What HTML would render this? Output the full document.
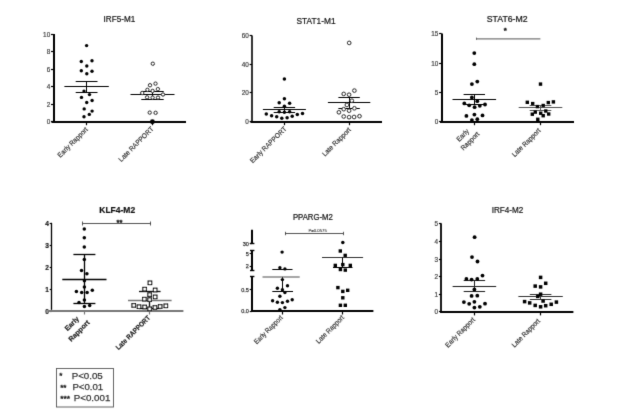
<!DOCTYPE html><html><head><meta charset="utf-8"><style>html,body{margin:0;padding:0;background:#fff;width:624px;height:413px;overflow:hidden}svg{display:block;font-family:"Liberation Sans",sans-serif;}#w{width:624px;height:413px}</style></head><body>
<div id="w">
<svg width="624" height="413" viewBox="0 0 624 413">
<defs><filter id="bl" x="-5%" y="-5%" width="110%" height="110%"><feConvolveMatrix order="3" kernelMatrix="0.01000 0.08000 0.01000 0.08000 0.64000 0.08000 0.01000 0.08000 0.01000" preserveAlpha="false"/></filter></defs>
<rect width="624" height="413" fill="#fff"/>
<g filter="url(#bl)">
<text x="119.4" y="22.0" font-size="9" text-anchor="middle" font-weight="normal" fill="#111" stroke="#111" stroke-width="0.2" textLength="31.6" lengthAdjust="spacingAndGlyphs">IRF5-M1</text>
<line x1="54" y1="33.9" x2="54" y2="122.7" stroke="#000" stroke-width="2"/>
<line x1="51.0" y1="121.5" x2="53.5" y2="121.5" stroke="#000" stroke-width="1.2"/>
<text x="50.2" y="124.26" font-size="6.4" text-anchor="end" font-weight="normal" fill="#444" stroke="#444" stroke-width="0.2">0</text>
<line x1="51.0" y1="104.5" x2="53.5" y2="104.5" stroke="#000" stroke-width="1.2"/>
<text x="50.2" y="106.78" font-size="6.4" text-anchor="end" font-weight="normal" fill="#444" stroke="#444" stroke-width="0.2">2</text>
<line x1="51.0" y1="86.5" x2="53.5" y2="86.5" stroke="#000" stroke-width="1.2"/>
<text x="50.2" y="89.30000000000001" font-size="6.4" text-anchor="end" font-weight="normal" fill="#444" stroke="#444" stroke-width="0.2">4</text>
<line x1="51.0" y1="69.5" x2="53.5" y2="69.5" stroke="#000" stroke-width="1.2"/>
<text x="50.2" y="71.82000000000001" font-size="6.4" text-anchor="end" font-weight="normal" fill="#444" stroke="#444" stroke-width="0.2">6</text>
<line x1="51.0" y1="51.5" x2="53.5" y2="51.5" stroke="#000" stroke-width="1.2"/>
<text x="50.2" y="54.34" font-size="6.4" text-anchor="end" font-weight="normal" fill="#444" stroke="#444" stroke-width="0.2">8</text>
<line x1="51.0" y1="34.5" x2="53.5" y2="34.5" stroke="#000" stroke-width="1.2"/>
<text x="50.2" y="36.86" font-size="6.4" text-anchor="end" font-weight="normal" fill="#444" stroke="#444" stroke-width="0.2">10</text>
<line x1="51.5" y1="122" x2="186" y2="122" stroke="#000" stroke-width="2"/>
<line x1="86.5" y1="121.7" x2="86.5" y2="125.2" stroke="#000" stroke-width="1.2"/>
<line x1="152.5" y1="121.7" x2="152.5" y2="125.2" stroke="#000" stroke-width="1.2"/>
<line x1="64.39999999999999" y1="86.5" x2="108.8" y2="86.5" stroke="#000" stroke-width="1"/>
<line x1="75.69999999999999" y1="81.5" x2="97.5" y2="81.5" stroke="#000" stroke-width="1"/>
<line x1="75.69999999999999" y1="92.5" x2="97.5" y2="92.5" stroke="#000" stroke-width="1"/>
<line x1="86.5" y1="81.1" x2="86.5" y2="92.6" stroke="#000" stroke-width="1"/>
<circle cx="86.6" cy="45.6" r="1.7" fill="#000"/>
<circle cx="81.3" cy="61.5" r="1.7" fill="#000"/>
<circle cx="92.0" cy="60.8" r="1.7" fill="#000"/>
<circle cx="86.8" cy="66.0" r="1.7" fill="#000"/>
<circle cx="81.3" cy="70.7" r="1.7" fill="#000"/>
<circle cx="92.0" cy="71.2" r="1.7" fill="#000"/>
<circle cx="86.8" cy="73.7" r="1.7" fill="#000"/>
<circle cx="84.0" cy="91.1" r="1.7" fill="#000"/>
<circle cx="89.5" cy="94.6" r="1.7" fill="#000"/>
<circle cx="81.5" cy="97.4" r="1.7" fill="#000"/>
<circle cx="92.1" cy="100.5" r="1.7" fill="#000"/>
<circle cx="86.7" cy="102.5" r="1.7" fill="#000"/>
<circle cx="84.2" cy="108.9" r="1.7" fill="#000"/>
<circle cx="92.1" cy="111.1" r="1.7" fill="#000"/>
<circle cx="89.3" cy="114.4" r="1.7" fill="#000"/>
<circle cx="84.0" cy="116.8" r="1.7" fill="#000"/>
<line x1="130.5" y1="94.5" x2="174.5" y2="94.5" stroke="#000" stroke-width="1"/>
<line x1="141.3" y1="91.5" x2="163.7" y2="91.5" stroke="#000" stroke-width="1"/>
<line x1="141.3" y1="99.5" x2="163.7" y2="99.5" stroke="#000" stroke-width="1"/>
<line x1="152.5" y1="91.2" x2="152.5" y2="99.2" stroke="#000" stroke-width="1"/>
<circle cx="152.8" cy="63.7" r="1.6500000000000001" fill="#fff" stroke="#000" stroke-width="1.0"/>
<circle cx="150.0" cy="85.2" r="1.6500000000000001" fill="#fff" stroke="#000" stroke-width="1.0"/>
<circle cx="155.5" cy="83.6" r="1.6500000000000001" fill="#fff" stroke="#000" stroke-width="1.0"/>
<circle cx="147.4" cy="89.8" r="1.6500000000000001" fill="#fff" stroke="#000" stroke-width="1.0"/>
<circle cx="157.9" cy="89.1" r="1.6500000000000001" fill="#fff" stroke="#000" stroke-width="1.0"/>
<circle cx="142.2" cy="93.0" r="1.6500000000000001" fill="#fff" stroke="#000" stroke-width="1.0"/>
<circle cx="152.6" cy="90.9" r="1.6500000000000001" fill="#fff" stroke="#000" stroke-width="1.0"/>
<circle cx="163.0" cy="94.5" r="1.6500000000000001" fill="#fff" stroke="#000" stroke-width="1.0"/>
<circle cx="147.1" cy="97.3" r="1.6500000000000001" fill="#fff" stroke="#000" stroke-width="1.0"/>
<circle cx="152.6" cy="97.6" r="1.6500000000000001" fill="#fff" stroke="#000" stroke-width="1.0"/>
<circle cx="158.0" cy="97.6" r="1.6500000000000001" fill="#fff" stroke="#000" stroke-width="1.0"/>
<circle cx="149.7" cy="112.6" r="1.6500000000000001" fill="#fff" stroke="#000" stroke-width="1.0"/>
<circle cx="155.6" cy="112.8" r="1.6500000000000001" fill="#fff" stroke="#000" stroke-width="1.0"/>
<circle cx="152.4" cy="121.7" r="2.4499999999999997" fill="#000"/>
<text x="88.3" y="130.0" font-size="7" text-anchor="end" font-weight="normal" fill="#333" stroke="#333" stroke-width="0.18" transform="rotate(-45 88.3 130.0)" textLength="39.5" lengthAdjust="spacingAndGlyphs">Early Rapport</text>
<text x="154.10000000000002" y="129.4" font-size="7" text-anchor="end" font-weight="normal" fill="#333" stroke="#333" stroke-width="0.18" transform="rotate(-45 154.10000000000002 129.4)" textLength="46.3" lengthAdjust="spacingAndGlyphs">Late RAPPORT</text>
<text x="316.0" y="24.0" font-size="9" text-anchor="middle" font-weight="normal" fill="#111" stroke="#111" stroke-width="0.2" textLength="39.1" lengthAdjust="spacingAndGlyphs">STAT1-M1</text>
<line x1="252" y1="35.4" x2="252" y2="122.5" stroke="#000" stroke-width="1.6"/>
<line x1="249.6" y1="121.5" x2="252.1" y2="121.5" stroke="#000" stroke-width="1.2"/>
<text x="248.79999999999998" y="124.16" font-size="6.4" text-anchor="end" font-weight="normal" fill="#444" stroke="#444" stroke-width="0.2">0</text>
<line x1="249.6" y1="92.5" x2="252.1" y2="92.5" stroke="#000" stroke-width="1.2"/>
<text x="248.79999999999998" y="95.42666666666666" font-size="6.4" text-anchor="end" font-weight="normal" fill="#444" stroke="#444" stroke-width="0.2">20</text>
<line x1="249.6" y1="64.5" x2="252.1" y2="64.5" stroke="#000" stroke-width="1.2"/>
<text x="248.79999999999998" y="66.69333333333333" font-size="6.4" text-anchor="end" font-weight="normal" fill="#444" stroke="#444" stroke-width="0.2">40</text>
<line x1="249.6" y1="35.5" x2="252.1" y2="35.5" stroke="#000" stroke-width="1.2"/>
<text x="248.79999999999998" y="37.959999999999994" font-size="6.4" text-anchor="end" font-weight="normal" fill="#444" stroke="#444" stroke-width="0.2">60</text>
<line x1="250.5" y1="122" x2="382" y2="122" stroke="#000" stroke-width="2"/>
<line x1="284.5" y1="121.7" x2="284.5" y2="125.2" stroke="#000" stroke-width="1.2"/>
<line x1="349.5" y1="121.7" x2="349.5" y2="125.2" stroke="#000" stroke-width="1.2"/>
<line x1="262.9" y1="109.5" x2="305.9" y2="109.5" stroke="#000" stroke-width="1"/>
<line x1="273.7" y1="107.5" x2="295.09999999999997" y2="107.5" stroke="#000" stroke-width="1"/>
<line x1="273.7" y1="112.5" x2="295.09999999999997" y2="112.5" stroke="#000" stroke-width="1"/>
<line x1="284.5" y1="107.2" x2="284.5" y2="112.0" stroke="#000" stroke-width="1"/>
<circle cx="284.4" cy="79.1" r="1.75" fill="#000"/>
<circle cx="284.4" cy="98.8" r="1.75" fill="#000"/>
<circle cx="279.2" cy="102.8" r="1.75" fill="#000"/>
<circle cx="289.6" cy="103.2" r="1.75" fill="#000"/>
<circle cx="284.4" cy="106.2" r="1.75" fill="#000"/>
<circle cx="279.2" cy="111.7" r="1.75" fill="#000"/>
<circle cx="284.4" cy="112.2" r="1.75" fill="#000"/>
<circle cx="289.6" cy="111.7" r="1.75" fill="#000"/>
<circle cx="266.3" cy="114.0" r="1.75" fill="#000"/>
<circle cx="271.6" cy="115.7" r="1.75" fill="#000"/>
<circle cx="276.7" cy="116.8" r="1.75" fill="#000"/>
<circle cx="281.8" cy="118.2" r="1.75" fill="#000"/>
<circle cx="287.1" cy="117.7" r="1.75" fill="#000"/>
<circle cx="292.2" cy="116.2" r="1.75" fill="#000"/>
<circle cx="297.3" cy="114.4" r="1.75" fill="#000"/>
<circle cx="302.5" cy="113.4" r="1.75" fill="#000"/>
<line x1="327.90000000000003" y1="102.5" x2="370.3" y2="102.5" stroke="#000" stroke-width="1"/>
<line x1="338.40000000000003" y1="97.5" x2="359.8" y2="97.5" stroke="#000" stroke-width="1"/>
<line x1="338.40000000000003" y1="108.5" x2="359.8" y2="108.5" stroke="#000" stroke-width="1"/>
<line x1="349.5" y1="97.4" x2="349.5" y2="108.0" stroke="#000" stroke-width="1"/>
<circle cx="349.2" cy="42.9" r="1.8" fill="#fff" stroke="#000" stroke-width="1.0"/>
<circle cx="354.4" cy="90.6" r="1.8" fill="#fff" stroke="#000" stroke-width="1.0"/>
<circle cx="343.7" cy="93.9" r="1.8" fill="#fff" stroke="#000" stroke-width="1.0"/>
<circle cx="349.1" cy="94.7" r="1.8" fill="#fff" stroke="#000" stroke-width="1.0"/>
<circle cx="351.8" cy="100.7" r="1.8" fill="#fff" stroke="#000" stroke-width="1.0"/>
<circle cx="346.9" cy="104.9" r="1.8" fill="#fff" stroke="#000" stroke-width="1.0"/>
<circle cx="343.7" cy="109.2" r="1.8" fill="#fff" stroke="#000" stroke-width="1.0"/>
<circle cx="354.4" cy="108.3" r="1.8" fill="#fff" stroke="#000" stroke-width="1.0"/>
<circle cx="349.1" cy="110.7" r="1.8" fill="#fff" stroke="#000" stroke-width="1.0"/>
<circle cx="338.9" cy="112.3" r="1.8" fill="#fff" stroke="#000" stroke-width="1.0"/>
<circle cx="343.7" cy="116.5" r="1.8" fill="#fff" stroke="#000" stroke-width="1.0"/>
<circle cx="349.1" cy="117.2" r="1.8" fill="#fff" stroke="#000" stroke-width="1.0"/>
<circle cx="354.1" cy="117.0" r="1.8" fill="#fff" stroke="#000" stroke-width="1.0"/>
<circle cx="359.5" cy="116.2" r="1.8" fill="#fff" stroke="#000" stroke-width="1.0"/>
<text x="287.0" y="129.29999999999998" font-size="7" text-anchor="end" font-weight="normal" fill="#333" stroke="#333" stroke-width="0.18" transform="rotate(-45 287.0 129.29999999999998)" textLength="48.5" lengthAdjust="spacingAndGlyphs">Early RAPPORT</text>
<text x="351.40000000000003" y="130.29999999999998" font-size="7" text-anchor="end" font-weight="normal" fill="#333" stroke="#333" stroke-width="0.18" transform="rotate(-45 351.40000000000003 130.29999999999998)" textLength="37.5" lengthAdjust="spacingAndGlyphs">Late Rapport</text>
<text x="507.2" y="22.3" font-size="9" text-anchor="middle" font-weight="normal" fill="#111" stroke="#111" stroke-width="0.2" textLength="40.9" lengthAdjust="spacingAndGlyphs">STAT6-M2</text>
<line x1="442" y1="33.5" x2="442" y2="122.7" stroke="#000" stroke-width="2"/>
<line x1="439.1" y1="121.5" x2="441.6" y2="121.5" stroke="#000" stroke-width="1.2"/>
<text x="438.3" y="124.06" font-size="6.4" text-anchor="end" font-weight="normal" fill="#444" stroke="#444" stroke-width="0.2">0</text>
<line x1="439.1" y1="92.5" x2="441.6" y2="92.5" stroke="#000" stroke-width="1.2"/>
<text x="438.3" y="94.86" font-size="6.4" text-anchor="end" font-weight="normal" fill="#444" stroke="#444" stroke-width="0.2">5</text>
<line x1="439.1" y1="63.5" x2="441.6" y2="63.5" stroke="#000" stroke-width="1.2"/>
<text x="438.3" y="65.66" font-size="6.4" text-anchor="end" font-weight="normal" fill="#444" stroke="#444" stroke-width="0.2">10</text>
<line x1="439.1" y1="33.5" x2="441.6" y2="33.5" stroke="#000" stroke-width="1.2"/>
<text x="438.3" y="36.46000000000001" font-size="6.4" text-anchor="end" font-weight="normal" fill="#444" stroke="#444" stroke-width="0.2">15</text>
<line x1="440" y1="122" x2="574" y2="122" stroke="#000" stroke-width="2"/>
<line x1="474.5" y1="121.7" x2="474.5" y2="125.2" stroke="#000" stroke-width="1.2"/>
<line x1="540.5" y1="121.7" x2="540.5" y2="125.2" stroke="#000" stroke-width="1.2"/>
<line x1="476" y1="38.9" x2="540.4" y2="38.9" stroke="#777" stroke-width="1.1"/>
<line x1="476.5" y1="37.6" x2="476.5" y2="39.8" stroke="#666" stroke-width="1"/>
<text x="505.3" y="32.6" font-size="8" text-anchor="middle" font-weight="normal" fill="#222" stroke="#222" stroke-width="0.5">*</text>
<line x1="452.5" y1="99.5" x2="496.1" y2="99.5" stroke="#000" stroke-width="1"/>
<line x1="463.6" y1="94.5" x2="485.0" y2="94.5" stroke="#000" stroke-width="1"/>
<line x1="463.6" y1="104.5" x2="485.0" y2="104.5" stroke="#000" stroke-width="1"/>
<line x1="474.5" y1="94.4" x2="474.5" y2="104.5" stroke="#000" stroke-width="1"/>
<circle cx="474.3" cy="53.1" r="1.9" fill="#000"/>
<circle cx="474.3" cy="64.2" r="1.9" fill="#000"/>
<circle cx="471.9" cy="84.1" r="1.9" fill="#000"/>
<circle cx="477.3" cy="81.6" r="1.9" fill="#000"/>
<circle cx="471.9" cy="97.4" r="1.9" fill="#000"/>
<circle cx="477.3" cy="101.2" r="1.9" fill="#000"/>
<circle cx="464.3" cy="103.4" r="1.9" fill="#000"/>
<circle cx="469.2" cy="105.3" r="1.9" fill="#000"/>
<circle cx="474.6" cy="107.2" r="1.9" fill="#000"/>
<circle cx="479.8" cy="105.8" r="1.9" fill="#000"/>
<circle cx="485.0" cy="104.5" r="1.9" fill="#000"/>
<circle cx="466.4" cy="115.9" r="1.9" fill="#000"/>
<circle cx="474.4" cy="114.6" r="1.9" fill="#000"/>
<circle cx="482.5" cy="115.4" r="1.9" fill="#000"/>
<circle cx="471.9" cy="120.1" r="1.9" fill="#000"/>
<circle cx="477.3" cy="119.2" r="1.9" fill="#000"/>
<line x1="518.7" y1="107.5" x2="562.3" y2="107.5" stroke="#555" stroke-width="1"/>
<line x1="529.7" y1="105.5" x2="551.3" y2="105.5" stroke="#555" stroke-width="1"/>
<line x1="529.7" y1="110.5" x2="551.3" y2="110.5" stroke="#555" stroke-width="1"/>
<line x1="540.5" y1="105.2" x2="540.5" y2="110.2" stroke="#555" stroke-width="1"/>
<rect x="538.8" y="82.39999999999999" width="3.4" height="3.4" fill="#000"/>
<rect x="525.5999999999999" y="100.6" width="3.4" height="3.4" fill="#000"/>
<rect x="531.0" y="101.89999999999999" width="3.4" height="3.4" fill="#000"/>
<rect x="535.6999999999999" y="104.89999999999999" width="3.4" height="3.4" fill="#000"/>
<rect x="541.5" y="103.8" width="3.4" height="3.4" fill="#000"/>
<rect x="546.5999999999999" y="100.89999999999999" width="3.4" height="3.4" fill="#000"/>
<rect x="551.6999999999999" y="100.2" width="3.4" height="3.4" fill="#000"/>
<rect x="533.5999999999999" y="110.39999999999999" width="3.4" height="3.4" fill="#000"/>
<rect x="530.5999999999999" y="112.5" width="3.4" height="3.4" fill="#000"/>
<rect x="539.0" y="111.5" width="3.4" height="3.4" fill="#000"/>
<rect x="541.5" y="114.0" width="3.4" height="3.4" fill="#000"/>
<rect x="544.0999999999999" y="109.3" width="3.4" height="3.4" fill="#000"/>
<rect x="547.0" y="112.3" width="3.4" height="3.4" fill="#000"/>
<rect x="536.0999999999999" y="117.6" width="3.4" height="3.4" fill="#000"/>
<text x="469.40000000000003" y="131.7" font-size="7" text-anchor="end" font-weight="normal" fill="#333" stroke="#333" stroke-width="0.18" transform="rotate(-45 469.40000000000003 131.7)" textLength="14.5" lengthAdjust="spacingAndGlyphs">Early</text>
<text x="479.8" y="134.5" font-size="7" text-anchor="end" font-weight="normal" fill="#333" stroke="#333" stroke-width="0.18" transform="rotate(-45 479.8 134.5)" textLength="23.0" lengthAdjust="spacingAndGlyphs">Rapport</text>
<text x="541.0" y="131.1" font-size="7" text-anchor="end" font-weight="normal" fill="#333" stroke="#333" stroke-width="0.18" transform="rotate(-45 541.0 131.1)" textLength="37.0" lengthAdjust="spacingAndGlyphs">Late Rapport</text>
<text x="117.2" y="213.2" font-size="9" text-anchor="middle" font-weight="bold" fill="#111" stroke="#111" stroke-width="0.2" textLength="35.9" lengthAdjust="spacingAndGlyphs">KLF4-M2</text>
<line x1="51.5" y1="222.8" x2="51.5" y2="311.65" stroke="#000" stroke-width="1.3"/>
<line x1="49.7" y1="311.5" x2="51.5" y2="311.5" stroke="#000" stroke-width="1.2"/>
<text x="48.900000000000006" y="313.64" font-size="6.6" text-anchor="end" font-weight="bold" fill="#222" stroke="#222" stroke-width="0.2">0</text>
<line x1="49.7" y1="289.5" x2="51.5" y2="289.5" stroke="#000" stroke-width="1.2"/>
<text x="48.900000000000006" y="291.74" font-size="6.6" text-anchor="end" font-weight="bold" fill="#222" stroke="#222" stroke-width="0.2">1</text>
<line x1="49.7" y1="267.5" x2="51.5" y2="267.5" stroke="#000" stroke-width="1.2"/>
<text x="48.900000000000006" y="269.84" font-size="6.6" text-anchor="end" font-weight="bold" fill="#222" stroke="#222" stroke-width="0.2">2</text>
<line x1="49.7" y1="245.5" x2="51.5" y2="245.5" stroke="#000" stroke-width="1.2"/>
<text x="48.900000000000006" y="247.94" font-size="6.6" text-anchor="end" font-weight="bold" fill="#222" stroke="#222" stroke-width="0.2">3</text>
<line x1="49.7" y1="223.5" x2="51.5" y2="223.5" stroke="#000" stroke-width="1.2"/>
<text x="48.900000000000006" y="226.04" font-size="6.6" text-anchor="end" font-weight="bold" fill="#222" stroke="#222" stroke-width="0.2">4</text>
<line x1="49" y1="311" x2="183.4" y2="311" stroke="#777" stroke-width="2"/>
<line x1="84.5" y1="311.0" x2="84.5" y2="314.5" stroke="#777" stroke-width="1.2"/>
<line x1="149.5" y1="311.0" x2="149.5" y2="314.5" stroke="#777" stroke-width="1.2"/>
<line x1="82.4" y1="223.5" x2="150.9" y2="223.5" stroke="#444" stroke-width="0.9"/>
<line x1="82.5" y1="221.5" x2="82.5" y2="225.5" stroke="#444" stroke-width="0.9"/>
<line x1="150.5" y1="221.5" x2="150.5" y2="225.5" stroke="#444" stroke-width="0.9"/>
<text x="119.4" y="225.4" font-size="8" text-anchor="middle" font-weight="normal" fill="#222" stroke="#222" stroke-width="0.5" textLength="6" lengthAdjust="spacingAndGlyphs">**</text>
<line x1="62.300000000000004" y1="279.5" x2="106.5" y2="279.5" stroke="#000" stroke-width="1.3"/>
<line x1="73.4" y1="254.5" x2="95.4" y2="254.5" stroke="#000" stroke-width="1.3"/>
<line x1="73.4" y1="303.5" x2="95.4" y2="303.5" stroke="#000" stroke-width="1.3"/>
<line x1="84.5" y1="254.8" x2="84.5" y2="303.4" stroke="#000" stroke-width="1.3"/>
<circle cx="84.3" cy="229" r="1.75" fill="#000"/>
<circle cx="84.3" cy="237.8" r="1.75" fill="#000"/>
<circle cx="84.3" cy="246.9" r="1.75" fill="#000"/>
<circle cx="84.3" cy="259.6" r="1.75" fill="#000"/>
<circle cx="81.5" cy="270.5" r="1.75" fill="#000"/>
<circle cx="86.9" cy="273.7" r="1.75" fill="#000"/>
<circle cx="84.4" cy="280.8" r="1.75" fill="#000"/>
<circle cx="84.4" cy="287" r="1.75" fill="#000"/>
<circle cx="76.4" cy="291.4" r="1.75" fill="#000"/>
<circle cx="81.7" cy="292.4" r="1.75" fill="#000"/>
<circle cx="87.1" cy="292.4" r="1.75" fill="#000"/>
<circle cx="92.3" cy="290.2" r="1.75" fill="#000"/>
<circle cx="84.4" cy="300.1" r="1.75" fill="#000"/>
<circle cx="79.0" cy="302.5" r="1.75" fill="#000"/>
<circle cx="84.4" cy="306.6" r="1.75" fill="#000"/>
<circle cx="89.7" cy="305.4" r="1.75" fill="#000"/>
<line x1="128.0" y1="300.5" x2="171.60000000000002" y2="300.5" stroke="#777" stroke-width="1.3"/>
<line x1="139.0" y1="291.5" x2="160.60000000000002" y2="291.5" stroke="#111" stroke-width="1.3"/>
<line x1="139.0" y1="308.5" x2="160.60000000000002" y2="308.5" stroke="#111" stroke-width="1.3"/>
<line x1="149.5" y1="291.8" x2="149.5" y2="308.2" stroke="#111" stroke-width="1.3"/>
<rect x="148.1" y="281.0" width="3.6" height="3.6" fill="#fff" stroke="#000" stroke-width="1.1"/>
<rect x="142.79999999999998" y="287.4" width="3.6" height="3.6" fill="#fff" stroke="#000" stroke-width="1.1"/>
<rect x="153.39999999999998" y="288.2" width="3.6" height="3.6" fill="#fff" stroke="#000" stroke-width="1.1"/>
<rect x="153.39999999999998" y="295.09999999999997" width="3.6" height="3.6" fill="#fff" stroke="#000" stroke-width="1.1"/>
<rect x="142.6" y="297.4" width="3.6" height="3.6" fill="#fff" stroke="#000" stroke-width="1.1"/>
<rect x="147.79999999999998" y="292.8" width="3.6" height="3.6" fill="#fff" stroke="#000" stroke-width="1.1"/>
<rect x="147.79999999999998" y="297.8" width="3.6" height="3.6" fill="#fff" stroke="#000" stroke-width="1.1"/>
<rect x="131.89999999999998" y="303.59999999999997" width="3.6" height="3.6" fill="#fff" stroke="#000" stroke-width="1.1"/>
<rect x="137.2" y="304.9" width="3.6" height="3.6" fill="#fff" stroke="#000" stroke-width="1.1"/>
<rect x="142.79999999999998" y="305.2" width="3.6" height="3.6" fill="#fff" stroke="#000" stroke-width="1.1"/>
<rect x="147.79999999999998" y="307.0" width="3.6" height="3.6" fill="#fff" stroke="#000" stroke-width="1.1"/>
<rect x="153.1" y="305.7" width="3.6" height="3.6" fill="#fff" stroke="#000" stroke-width="1.1"/>
<rect x="158.39999999999998" y="304.7" width="3.6" height="3.6" fill="#fff" stroke="#000" stroke-width="1.1"/>
<rect x="164.0" y="304.0" width="3.6" height="3.6" fill="#fff" stroke="#000" stroke-width="1.1"/>
<text x="79.6" y="319.2" font-size="7" text-anchor="end" font-weight="bold" fill="#222" stroke="#222" stroke-width="0.18" transform="rotate(-45 79.6 319.2)">Early</text>
<text x="90.2" y="323.0" font-size="7" text-anchor="end" font-weight="bold" fill="#222" stroke="#222" stroke-width="0.18" transform="rotate(-45 90.2 323.0)">Rapport</text>
<text x="150.8" y="318.2" font-size="7" text-anchor="end" font-weight="bold" fill="#222" stroke="#222" stroke-width="0.18" transform="rotate(-45 150.8 318.2)" textLength="45.5" lengthAdjust="spacingAndGlyphs">Late RAPPORT</text>
<text x="312.9" y="219.5" font-size="9" text-anchor="middle" font-weight="normal" fill="#111" stroke="#111" stroke-width="0.2" textLength="40" lengthAdjust="spacingAndGlyphs">PPARG-M2</text>
<line x1="252" y1="229.7" x2="252" y2="243.8" stroke="#000" stroke-width="2"/>
<line x1="250" y1="243.5" x2="254.4" y2="243.5" stroke="#000" stroke-width="1.4"/>
<line x1="252" y1="250.3" x2="252" y2="270.7" stroke="#000" stroke-width="2"/>
<line x1="250" y1="250.5" x2="254.4" y2="250.5" stroke="#000" stroke-width="1.4"/>
<line x1="250" y1="270.5" x2="254.4" y2="270.5" stroke="#000" stroke-width="1.4"/>
<line x1="252" y1="276.9" x2="252" y2="311.8" stroke="#000" stroke-width="2"/>
<line x1="250" y1="276.5" x2="254.4" y2="276.5" stroke="#000" stroke-width="1.4"/>
<line x1="249.7" y1="243.5" x2="252.2" y2="243.5" stroke="#000" stroke-width="1.2"/>
<text x="248.8" y="245.8" font-size="5.5" text-anchor="end" font-weight="normal" fill="#333" stroke="#333" stroke-width="0.25">30</text>
<line x1="249.7" y1="253.5" x2="252.2" y2="253.5" stroke="#000" stroke-width="1.2"/>
<text x="248.8" y="255.9" font-size="5.5" text-anchor="end" font-weight="normal" fill="#333" stroke="#333" stroke-width="0.25">5</text>
<line x1="249.7" y1="266.5" x2="252.2" y2="266.5" stroke="#000" stroke-width="1.2"/>
<text x="248.8" y="268.1" font-size="5.5" text-anchor="end" font-weight="normal" fill="#333" stroke="#333" stroke-width="0.25">2</text>
<line x1="249.7" y1="289.5" x2="252.2" y2="289.5" stroke="#000" stroke-width="1.2"/>
<text x="248.8" y="291.7" font-size="5.5" text-anchor="end" font-weight="normal" fill="#333" stroke="#333" stroke-width="0.25">0.5</text>
<line x1="249.7" y1="311.5" x2="252.2" y2="311.5" stroke="#000" stroke-width="1.2"/>
<text x="248.8" y="313.0" font-size="5.5" text-anchor="end" font-weight="normal" fill="#333" stroke="#333" stroke-width="0.25">0.0</text>
<line x1="251" y1="311" x2="373.4" y2="311" stroke="#000" stroke-width="2"/>
<line x1="282.5" y1="311.0" x2="282.5" y2="314.5" stroke="#000" stroke-width="1.2"/>
<line x1="342.5" y1="311.0" x2="342.5" y2="314.5" stroke="#000" stroke-width="1.2"/>
<line x1="285" y1="233.5" x2="343.2" y2="233.5" stroke="#444" stroke-width="0.9"/>
<line x1="285.5" y1="231.8" x2="285.5" y2="235.2" stroke="#444" stroke-width="0.9"/>
<line x1="343.5" y1="231.8" x2="343.5" y2="235.2" stroke="#444" stroke-width="0.9"/>
<text x="317.6" y="232.2" font-size="4.3" text-anchor="middle" font-weight="normal" fill="#333" stroke="#333" stroke-width="0.08" textLength="18.4" lengthAdjust="spacingAndGlyphs">P=0.0575</text>
<line x1="262.5" y1="277" x2="299.7" y2="277" stroke="#888" stroke-width="1.5"/>
<line x1="272.3" y1="269.5" x2="292.5" y2="269.5" stroke="#000" stroke-width="1"/>
<line x1="272.3" y1="291.5" x2="293" y2="291.5" stroke="#000" stroke-width="1"/>
<line x1="282.5" y1="276.9" x2="282.5" y2="291.2" stroke="#000" stroke-width="1"/>
<circle cx="282.1" cy="252.1" r="1.7" fill="#000"/>
<circle cx="279.9" cy="267.7" r="1.7" fill="#000"/>
<circle cx="284.9" cy="268.9" r="1.7" fill="#000"/>
<circle cx="282.4" cy="279.6" r="1.7" fill="#000"/>
<circle cx="277.4" cy="288.2" r="1.7" fill="#000"/>
<circle cx="287.5" cy="285.7" r="1.7" fill="#000"/>
<circle cx="282.4" cy="289.7" r="1.7" fill="#000"/>
<circle cx="284.9" cy="292.5" r="1.7" fill="#000"/>
<circle cx="279.9" cy="296.3" r="1.7" fill="#000"/>
<circle cx="272.6" cy="300.8" r="1.7" fill="#000"/>
<circle cx="277.4" cy="302.3" r="1.7" fill="#000"/>
<circle cx="282.4" cy="302.6" r="1.7" fill="#000"/>
<circle cx="287.5" cy="301.3" r="1.7" fill="#000"/>
<circle cx="292.2" cy="299.8" r="1.7" fill="#000"/>
<circle cx="279.9" cy="309.6" r="1.7" fill="#000"/>
<circle cx="284.9" cy="307.6" r="1.7" fill="#000"/>
<line x1="322" y1="257.5" x2="363.1" y2="257.5" stroke="#333" stroke-width="1"/>
<line x1="333" y1="267.5" x2="352.5" y2="267.5" stroke="#000" stroke-width="1"/>
<line x1="342.5" y1="257.4" x2="342.5" y2="267.5" stroke="#000" stroke-width="1"/>
<circle cx="342.8" cy="242.4" r="1.75" fill="#000"/>
<rect x="338.6" y="249.3" width="3.4" height="3.4" fill="#000"/>
<rect x="343.5" y="253.70000000000002" width="3.4" height="3.4" fill="#000"/>
<rect x="341.1" y="262.90000000000003" width="3.4" height="3.4" fill="#000"/>
<rect x="333.6" y="263.7" width="3.4" height="3.4" fill="#000"/>
<rect x="348.6" y="263.7" width="3.4" height="3.4" fill="#000"/>
<rect x="338.7" y="267.8" width="3.4" height="3.4" fill="#000"/>
<rect x="343.6" y="268.40000000000003" width="3.4" height="3.4" fill="#000"/>
<rect x="336.2" y="285.90000000000003" width="3.4" height="3.4" fill="#000"/>
<rect x="341.1" y="289.7" width="3.4" height="3.4" fill="#000"/>
<rect x="346.0" y="288.6" width="3.4" height="3.4" fill="#000"/>
<rect x="341.1" y="296.1" width="3.4" height="3.4" fill="#000"/>
<rect x="338.7" y="303.6" width="3.4" height="3.4" fill="#000"/>
<rect x="343.6" y="303.6" width="3.4" height="3.4" fill="#000"/>
<text x="283.3" y="318.09999999999997" font-size="7" text-anchor="end" font-weight="normal" fill="#333" stroke="#333" stroke-width="0.18" transform="rotate(-45 283.3 318.09999999999997)" textLength="37.5" lengthAdjust="spacingAndGlyphs">Early Rapport</text>
<text x="344.6" y="318.09999999999997" font-size="7" text-anchor="end" font-weight="normal" fill="#333" stroke="#333" stroke-width="0.18" transform="rotate(-45 344.6 318.09999999999997)" textLength="36.5" lengthAdjust="spacingAndGlyphs">Late Rapport</text>
<text x="507.5" y="212.9" font-size="9" text-anchor="middle" font-weight="normal" fill="#111" stroke="#111" stroke-width="0.2" textLength="31.6" lengthAdjust="spacingAndGlyphs">IRF4-M2</text>
<line x1="441" y1="223.6" x2="441" y2="312.79999999999995" stroke="#000" stroke-width="1.8"/>
<line x1="438.9" y1="311.5" x2="441.4" y2="311.5" stroke="#000" stroke-width="1.2"/>
<text x="438.09999999999997" y="314.46" font-size="6.4" text-anchor="end" font-weight="normal" fill="#444" stroke="#444" stroke-width="0.2">0</text>
<line x1="438.9" y1="294.5" x2="441.4" y2="294.5" stroke="#000" stroke-width="1.2"/>
<text x="438.09999999999997" y="296.85999999999996" font-size="6.4" text-anchor="end" font-weight="normal" fill="#444" stroke="#444" stroke-width="0.2">1</text>
<line x1="438.9" y1="276.5" x2="441.4" y2="276.5" stroke="#000" stroke-width="1.2"/>
<text x="438.09999999999997" y="279.26" font-size="6.4" text-anchor="end" font-weight="normal" fill="#444" stroke="#444" stroke-width="0.2">2</text>
<line x1="438.9" y1="259.5" x2="441.4" y2="259.5" stroke="#000" stroke-width="1.2"/>
<text x="438.09999999999997" y="261.65999999999997" font-size="6.4" text-anchor="end" font-weight="normal" fill="#444" stroke="#444" stroke-width="0.2">3</text>
<line x1="438.9" y1="241.5" x2="441.4" y2="241.5" stroke="#000" stroke-width="1.2"/>
<text x="438.09999999999997" y="244.05999999999997" font-size="6.4" text-anchor="end" font-weight="normal" fill="#444" stroke="#444" stroke-width="0.2">4</text>
<line x1="438.9" y1="223.5" x2="441.4" y2="223.5" stroke="#000" stroke-width="1.2"/>
<text x="438.09999999999997" y="226.45999999999998" font-size="6.4" text-anchor="end" font-weight="normal" fill="#444" stroke="#444" stroke-width="0.2">5</text>
<line x1="440" y1="312" x2="573.4" y2="312" stroke="#000" stroke-width="2"/>
<line x1="474.5" y1="311.9" x2="474.5" y2="315.4" stroke="#000" stroke-width="1.2"/>
<line x1="540.5" y1="311.9" x2="540.5" y2="315.4" stroke="#000" stroke-width="1.2"/>
<line x1="452.59999999999997" y1="286.5" x2="496.2" y2="286.5" stroke="#222" stroke-width="1"/>
<line x1="463.7" y1="280.5" x2="485.09999999999997" y2="280.5" stroke="#222" stroke-width="1"/>
<line x1="463.7" y1="291.5" x2="485.09999999999997" y2="291.5" stroke="#222" stroke-width="1"/>
<line x1="474.5" y1="280.9" x2="474.5" y2="291.1" stroke="#222" stroke-width="1"/>
<circle cx="474.6" cy="237.2" r="1.9" fill="#000"/>
<circle cx="472" cy="257.1" r="1.9" fill="#000"/>
<circle cx="477.5" cy="261.5" r="1.9" fill="#000"/>
<circle cx="482.5" cy="275.6" r="1.9" fill="#000"/>
<circle cx="466.4" cy="278.9" r="1.9" fill="#000"/>
<circle cx="471.6" cy="279.6" r="1.9" fill="#000"/>
<circle cx="477.3" cy="279.0" r="1.9" fill="#000"/>
<circle cx="474.4" cy="289.4" r="1.9" fill="#000"/>
<circle cx="471.6" cy="295.9" r="1.9" fill="#000"/>
<circle cx="477.3" cy="295.7" r="1.9" fill="#000"/>
<circle cx="463.9" cy="302.1" r="1.9" fill="#000"/>
<circle cx="469.2" cy="303.8" r="1.9" fill="#000"/>
<circle cx="474.4" cy="301.8" r="1.9" fill="#000"/>
<circle cx="485.0" cy="303.7" r="1.9" fill="#000"/>
<circle cx="474.4" cy="307.6" r="1.9" fill="#000"/>
<circle cx="479.8" cy="306.8" r="1.9" fill="#000"/>
<line x1="518.4" y1="296.5" x2="562.8000000000001" y2="296.5" stroke="#333" stroke-width="1"/>
<line x1="529.8000000000001" y1="294.5" x2="551.4" y2="294.5" stroke="#333" stroke-width="1"/>
<line x1="529.8000000000001" y1="299.5" x2="551.4" y2="299.5" stroke="#333" stroke-width="1"/>
<line x1="540.5" y1="294.0" x2="540.5" y2="299.2" stroke="#333" stroke-width="1"/>
<rect x="538.85" y="275.65" width="3.5" height="3.5" fill="#000"/>
<rect x="543.95" y="281.55" width="3.5" height="3.5" fill="#000"/>
<rect x="533.45" y="284.35" width="3.5" height="3.5" fill="#000"/>
<rect x="538.85" y="285.15" width="3.5" height="3.5" fill="#000"/>
<rect x="538.85" y="292.45" width="3.5" height="3.5" fill="#000"/>
<rect x="535.95" y="294.65" width="3.5" height="3.5" fill="#000"/>
<rect x="541.35" y="299.25" width="3.5" height="3.5" fill="#000"/>
<rect x="522.85" y="299.85" width="3.5" height="3.5" fill="#000"/>
<rect x="527.95" y="301.15" width="3.5" height="3.5" fill="#000"/>
<rect x="533.45" y="303.65" width="3.5" height="3.5" fill="#000"/>
<rect x="538.85" y="305.05" width="3.5" height="3.5" fill="#000"/>
<rect x="543.95" y="303.95" width="3.5" height="3.5" fill="#000"/>
<rect x="549.45" y="302.55" width="3.5" height="3.5" fill="#000"/>
<rect x="554.65" y="300.35" width="3.5" height="3.5" fill="#000"/>
<text x="475.6" y="320.3" font-size="7" text-anchor="end" font-weight="normal" fill="#333" stroke="#333" stroke-width="0.18" transform="rotate(-45 475.6 320.3)" textLength="39.0" lengthAdjust="spacingAndGlyphs">Early Rapport</text>
<text x="540.5999999999999" y="321.5" font-size="7" text-anchor="end" font-weight="normal" fill="#333" stroke="#333" stroke-width="0.18" transform="rotate(-45 540.5999999999999 321.5)" textLength="37.0" lengthAdjust="spacingAndGlyphs">Late Rapport</text>
<rect x="56.5" y="368.5" width="57" height="38.5" fill="none" stroke="#555" stroke-width="0.9"/>
<text x="60.9" y="378.3" font-size="8" text-anchor="middle" font-weight="normal" fill="#222" stroke="#222" stroke-width="0.4">*</text>
<text x="71.7" y="378.7" font-size="9.7" text-anchor="start" font-weight="normal" fill="#333" stroke="#333" stroke-width="0.25" textLength="31.1" lengthAdjust="spacingAndGlyphs">P&lt;0.05</text>
<text x="63.3" y="389.5" font-size="8" text-anchor="middle" font-weight="normal" fill="#222" stroke="#222" stroke-width="0.4" textLength="6.3" lengthAdjust="spacingAndGlyphs">**</text>
<text x="72.4" y="389.9" font-size="9.7" text-anchor="start" font-weight="normal" fill="#333" stroke="#333" stroke-width="0.25" textLength="30.8" lengthAdjust="spacingAndGlyphs">P&lt;0.01</text>
<text x="65.2" y="401.0" font-size="8" text-anchor="middle" font-weight="normal" fill="#222" stroke="#222" stroke-width="0.4" textLength="9.8" lengthAdjust="spacingAndGlyphs">***</text>
<text x="73.8" y="401.4" font-size="9.7" text-anchor="start" font-weight="normal" fill="#333" stroke="#333" stroke-width="0.25" textLength="36.5" lengthAdjust="spacingAndGlyphs">P&lt;0.001</text>
</g>
</svg></div></body></html>
